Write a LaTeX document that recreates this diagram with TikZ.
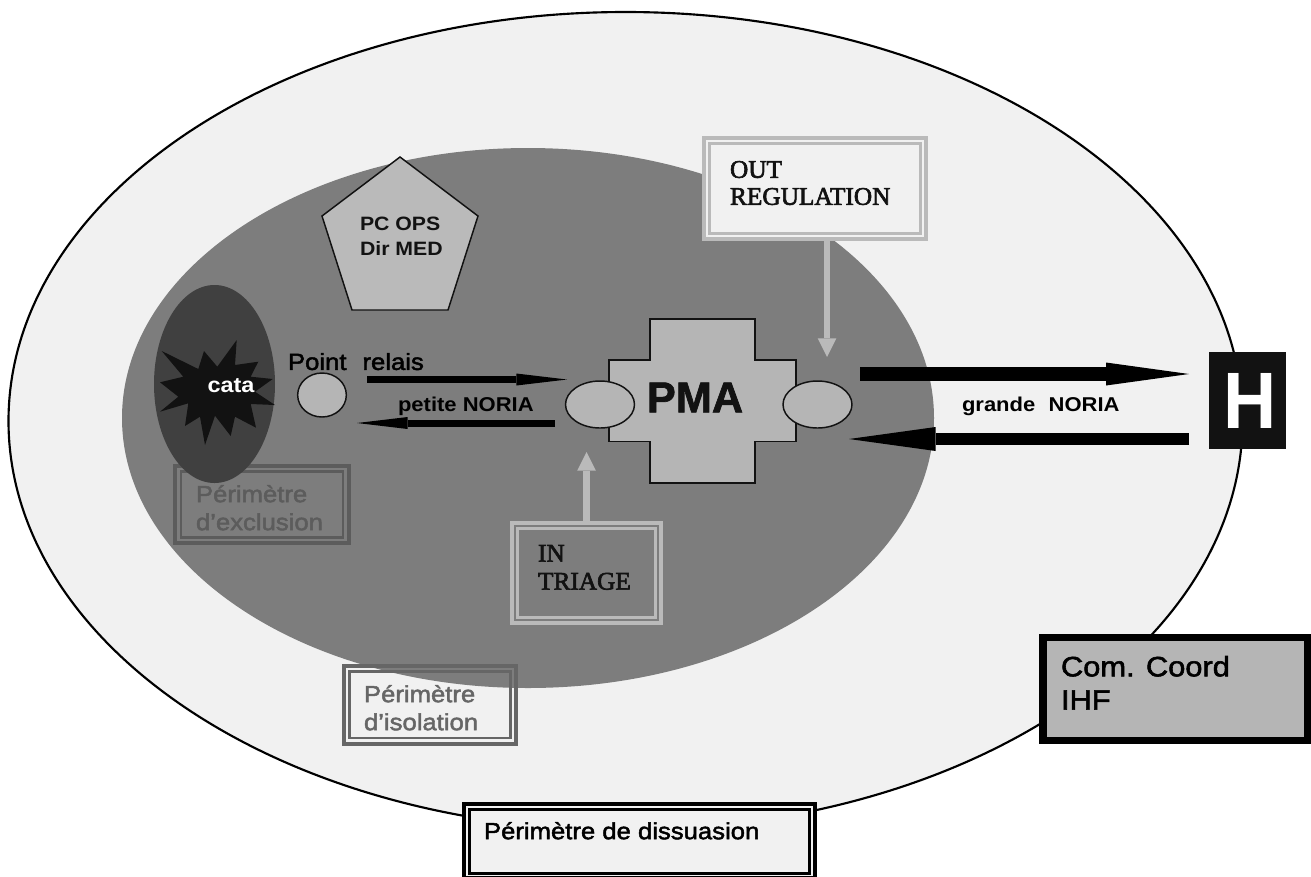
\documentclass[tikz,border=0pt]{standalone}
\usepackage{fontspec}
\setmainfont{Liberation Sans}
\newfontfamily\arb[FakeStretch=1.1]{Liberation Sans Bold}
\newfontfamily\arh[FakeStretch=0.92]{Liberation Sans Bold}
\newfontfamily\arp[FakeBold=1.5]{Liberation Sans Bold}
\newfontfamily\arm[FakeStretch=1.1,FakeBold=2]{Liberation Sans}
\newfontfamily\timesf[FakeBold=2.5]{Liberation Serif}
\usetikzlibrary{shapes.geometric,arrows.meta}
\definecolor{pale}{gray}{0.945}
\definecolor{midg}{gray}{0.49}
\definecolor{lightg}{gray}{0.71}
\definecolor{darkg}{gray}{0.25}
\definecolor{blk}{gray}{0.07}
\definecolor{rimg}{gray}{0.36}
\definecolor{rimh}{gray}{0.40}
\definecolor{rimo}{gray}{0.73}
\tikzset{
 x=0.75pt,y=-0.75pt,
 lbl/.style={inner sep=0,outer sep=0,align=left,anchor=north west},
 oval/.style={ellipse,draw=blk,line width=1.1pt,fill=lightg,inner sep=0,outer sep=0},
 outline/.style={draw=blk,line width=1.1pt,fill=lightg},
 thinarrow/.style={line width=5.25pt,-{Triangle[length=38pt,width=9pt,line width=0pt]}},
 greyarrow/.style={rimo,line width=5pt,-{Triangle[length=14pt,width=14pt,line width=0pt]}},
}
\begin{document}
\begin{tikzpicture}
\useasboundingbox (0,0) rectangle (1311,876);
\fill[white] (0,0) rectangle (1311,876);
% outer and inner perimeters
\path[fill=pale,draw=black,line width=1.6pt] (625.5,421) ellipse [x radius=617,y radius=409];
\fill[midg] (528,418) ellipse [x radius=406,y radius=270];
% exclusion box (lies under the dark ellipse)
\node[draw=rimg,line width=3pt,inner sep=0,outer sep=0,minimum width=130.5pt,minimum height=57.75pt] (exb) at (262,504.5) {};
\draw[rimg,line width=2.2pt] (181,471.5) rectangle (343,537.5);
\node[lbl,font=\arm\fontsize{17.5}{21}\selectfont,text=rimg] (ex) at (196,485) {Périmètre\\d’exclusion};
% dark ellipse and star
\node[ellipse,fill=darkg,inner sep=0,minimum width=90.75pt,minimum height=148.5pt] (catae) at (214.5,384) {};
\fill[blk] (161.7,351) -- (198.3,369) -- (204,351) -- (217.3,366.7) -- (236.7,340) -- (235,365) -- (258.3,361.7) -- (250.7,376.7) -- (272.7,379) -- (255,391.7) -- (275,405) -- (250.7,404) -- (256,427.7) -- (235,416.7) -- (230.7,436) -- (215,415.7) -- (205,445) -- (200,416.7) -- (185,426) -- (188.3,403.3) -- (160,411.7) -- (178.3,396.7) -- (160,382.3) -- (183.3,376.7) -- cycle;
\node[lbl,anchor=center,font=\arb\fontsize{16}{16}\selectfont,text=white] (cata) at (231,385.5) {cata};
% pentagon
\path[outline,fill=rimo] (400,157) -- (478,216) -- (448,310) -- (352,310) -- (322,216) -- cycle;
\node[lbl,font=\arb\fontsize{14.5}{18.75}\selectfont,text=blk] (pcops) at (360,217) {PC OPS\\Dir MED};
% PMA cross
\path[outline] (650,319) -- (755,319) -- (755,360) -- (796,360) -- (796,441.5) -- (755,441.5) -- (755,483) -- (650,483) -- (650,441.5) -- (609,441.5) -- (609,360) -- (650,360) -- cycle;
\node[lbl,anchor=center,font=\arp\fontsize{32.5}{32.5}\selectfont,text=blk] (pma) at (695,397.5) {PMA};
\node[oval,minimum width=51.75pt,minimum height=35.25pt] (o1) at (600,404.5) {};
\node[oval,minimum width=51.75pt,minimum height=35.25pt] (o2) at (817.5,404.5) {};
\node[oval,minimum width=36.5pt,minimum height=33pt] (o3) at (322,395) {};
\node[lbl,font=\arm\fontsize{17.5}{17.5}\selectfont,text=black] (pr) at (288,353) {Point\hspace{12pt}relais};
% noria arrows
\coordinate (a1s) at (367,379.5); \coordinate (a1e) at (567,379.5);
\draw[thinarrow,black] (a1s) -- (a1e);
\coordinate (a2s) at (555,423); \coordinate (a2e) at (357,423);
\draw[thinarrow,black] (a2s) -- (a2e);
\node[lbl,font=\arb\fontsize{15}{15}\selectfont] (pn) at (398,397) {petite NORIA};
\coordinate (a3s) at (860,374); \coordinate (a3e) at (1189,374);
\draw[black,line width=10.5pt,-{Triangle[length=62.25pt,width=17.25pt,line width=0pt]}] (a3s) -- (a3e);
\coordinate (a4s) at (1189,439); \coordinate (a4e) at (849,439);
\draw[black,line width=9pt,-{Triangle[length=65pt,width=18pt,line width=0pt]}] (a4s) -- (a4e);
\node[lbl,font=\arb\fontsize{15}{15}\selectfont] (gn) at (962,397) {grande\hspace{10pt}NORIA};
% H
\node[fill=blk,inner sep=0,outer sep=0,minimum width=57.75pt,minimum height=72.75pt,text=white,font=\arh\fontsize{60}{60}\selectfont] (h) at (1247.5,400.5) {\hspace*{4pt}H};
% Com Coord
\node[draw=black,fill=lightg,line width=5.6pt,inner sep=0,outer sep=0,minimum width=198.75pt,minimum height=77pt] (cc) at (1175.5,689) {};
\node[lbl,font=\arm\fontsize{21}{25}\selectfont,text=black] (cct) at (1061,656) {Com. Coord\\IHF};
% OUT box
\node[draw=rimo,fill=pale,line width=3pt,inner sep=0,outer sep=0,minimum width=166.5pt,minimum height=75.75pt] (outb) at (815,188.5) {};
\draw[rimo,line width=2.2pt] (709.5,143.5) rectangle (920.5,233.5);
\node[lbl,font=\timesf\fontsize{19}{20.25}\selectfont,text=blk] (out) at (730,161) {OUT\\REGULATION};
\coordinate (outtip) at (827,357);
\draw[greyarrow] (outtip |- outb.south) -- (outtip);
% IN box
\node[draw=rimo,line width=3pt,inner sep=0,outer sep=0,minimum width=111.75pt,minimum height=75pt] (inb) at (586.5,573) {};
\draw[rimo,line width=2.2pt] (517.5,528.5) rectangle (655.5,617.5);
\node[lbl,font=\timesf\fontsize{19}{21}\selectfont,text=blk] (in) at (538,545) {IN\\TRIAGE};
\coordinate (intip) at (586.5,452);
\draw[greyarrow] (inb.north) -- (intip);
% isolation
\node[draw=rimh,line width=3pt,inner sep=0,outer sep=0,minimum width=129pt,minimum height=58.5pt] (isb) at (430,705) {};
\draw[rimh,line width=2.2pt] (349.5,671.5) rectangle (510.5,738);
\node[lbl,font=\arm\fontsize{17.5}{21}\selectfont,text=rimh] (is) at (364,685) {Périmètre\\d’isolation};
% dissuasion
\node[draw=black,fill=pale,line width=3pt,inner sep=0,outer sep=0,minimum width=263.25pt,minimum height=55.5pt] (disb) at (639.5,841) {};
\draw[black,line width=2.4pt] (469.5,809.5) rectangle (809.5,873.5);
\node[lbl,font=\arm\fontsize{17.5}{17.5}\selectfont,text=black] (dis) at (484,822) {Périmètre de dissuasion};
\end{tikzpicture}
\end{document}
